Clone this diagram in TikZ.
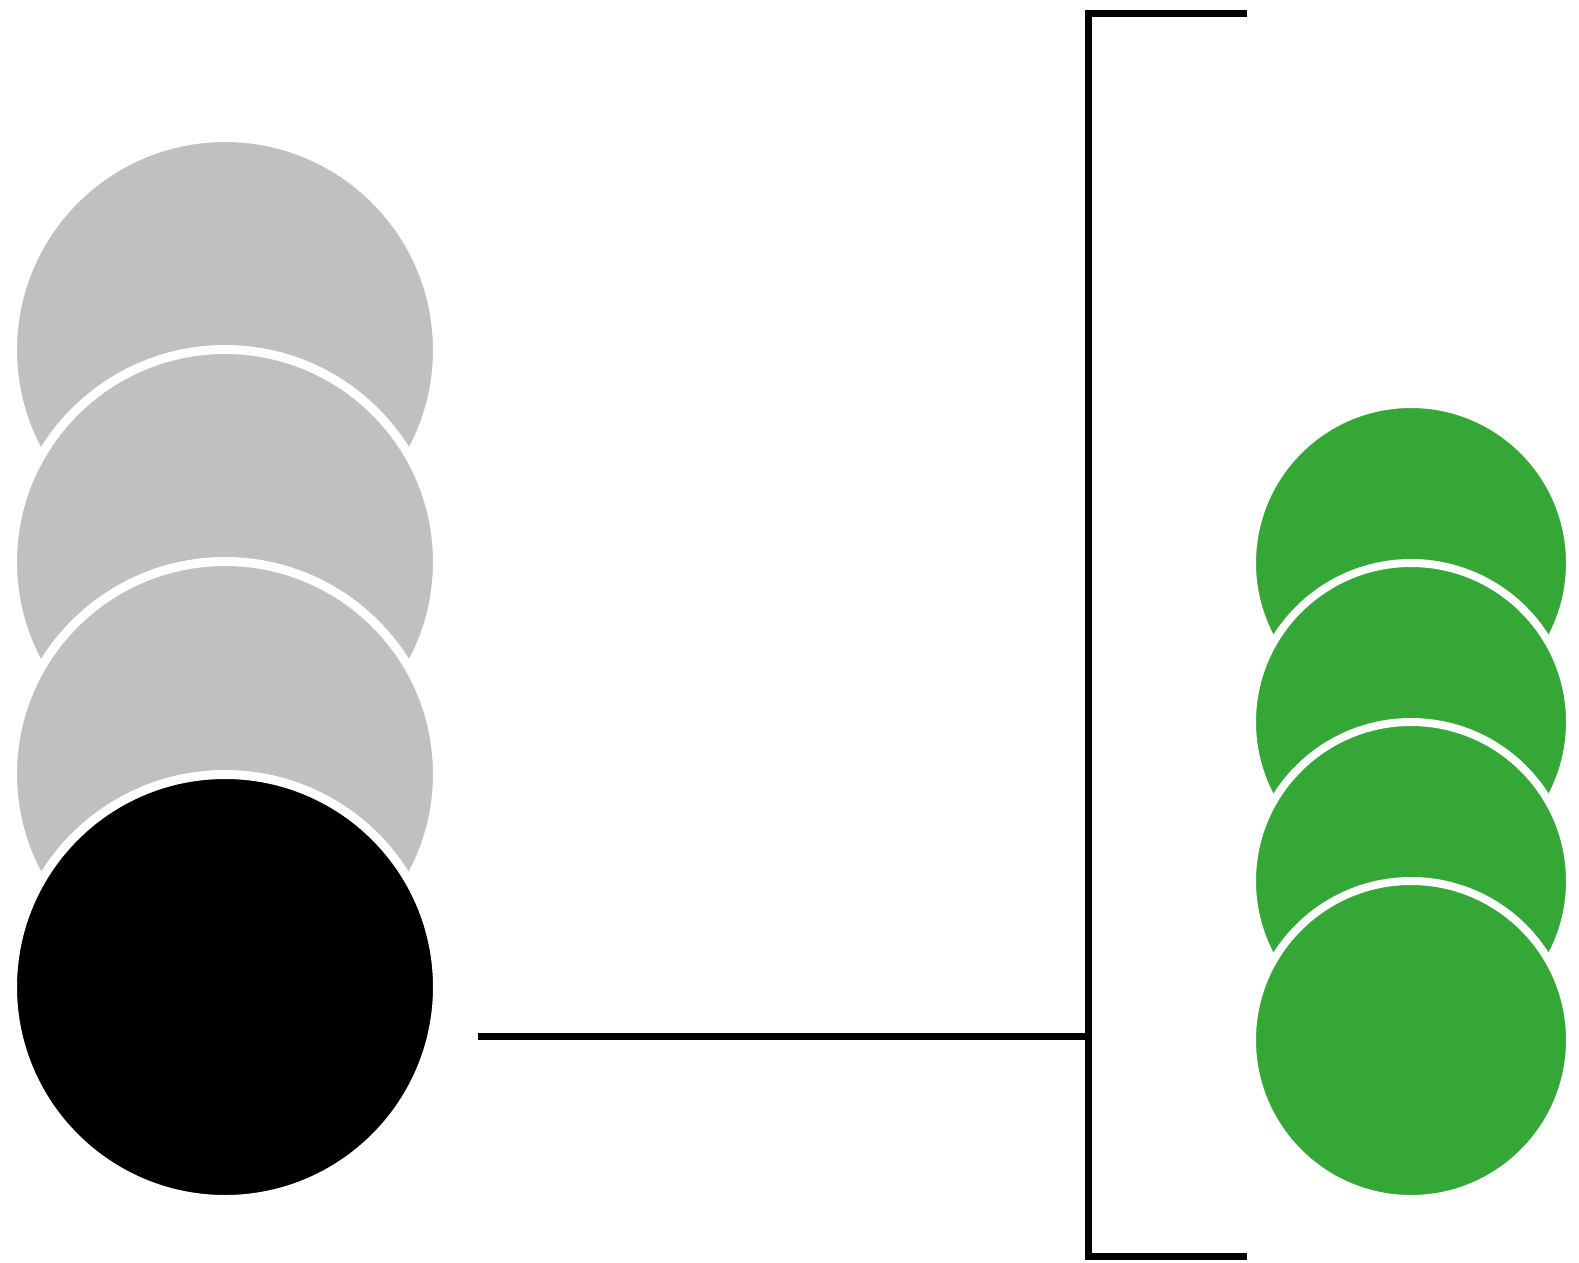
\documentclass[tikz,border=0pt]{standalone}
\usepackage{tikz}
\definecolor{ggray}{RGB}{192,192,192}
\definecolor{ggreen}{RGB}{52,167,54}
\tikzset{
  bigdot/.style={circle, draw=white, line width=9pt, minimum size=425pt, inner sep=0pt, outer sep=0pt},
  smalldot/.style={circle, draw=white, line width=8pt, minimum size=318pt, inner sep=0pt, outer sep=0pt, fill=ggreen},
  brk/.style={line width=7pt, line cap=butt}
}
\begin{document}
\begin{tikzpicture}[x=1pt,y=-1pt]
\useasboundingbox (0,0) rectangle (1579,1263);
\fill[white] (0,0) rectangle (1579,1263);
% left stack
\node[bigdot, fill=ggray] (g1) at (225,350) {};
\node[bigdot, fill=ggray] (g2) at (225,562) {};
\node[bigdot, fill=ggray] (g3) at (225,774) {};
\node[bigdot, fill=black] (b) at (225,987) {};
% right stack
\node[smalldot] (s1) at (1411,563) {};
\node[smalldot] (s2) at (1411,722) {};
\node[smalldot] (s3) at (1411,881) {};
\node[smalldot] (s4) at (1411,1040) {};
% bracket
\coordinate (tr) at (1247,13.5);
\coordinate (tl) at (1088,13.5);
\coordinate (bl) at (1088,1256);
\coordinate (br) at (1247,1256);
\coordinate (j) at (1088,1036);
\coordinate (ls) at (478,1036);
\draw[brk, line join=miter] (tr) -- (tl) -- (bl) -- (br);
\draw[brk] (ls) -- (j);
\end{tikzpicture}
\end{document}
